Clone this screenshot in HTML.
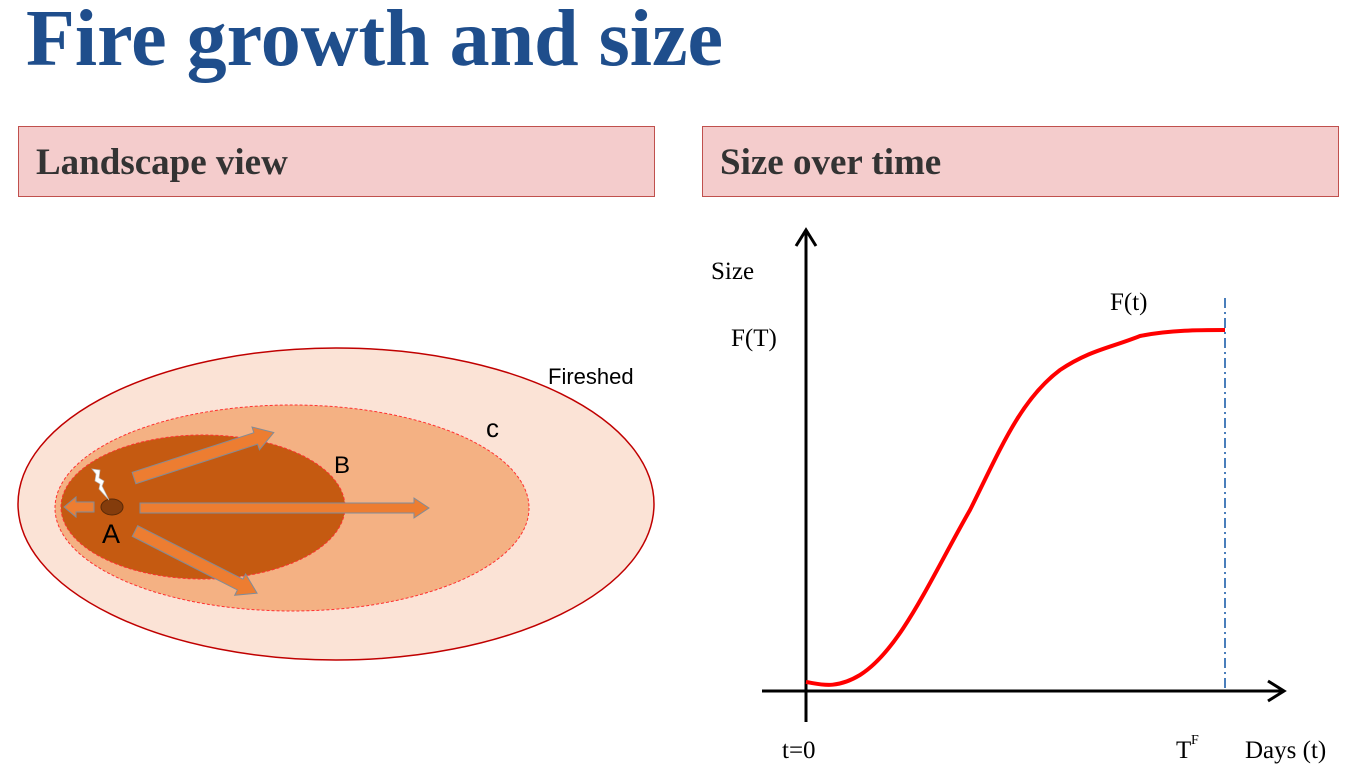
<!DOCTYPE html>
<html><head><style>
body{margin:0;width:1358px;height:782px;background:#fff;overflow:hidden;position:relative;font-family:"Liberation Serif",serif}
.t{position:absolute;left:26px;top:-6px;font-size:80px;font-weight:bold;color:#1f4e8c;white-space:nowrap}
.h{position:absolute;top:126px;height:71px;background:#f4cccc;border:1.5px solid #c0504d;box-sizing:border-box;font-size:37px;font-weight:bold;color:#333;padding-left:17px;line-height:72px;white-space:nowrap}
</style></head><body>
<div class="t">Fire growth and size</div>
<div class="h" style="left:18px;width:637px">Landscape view</div>
<div class="h" style="left:702px;width:637px">Size over time</div>
<svg width="1358" height="782" style="position:absolute;left:0;top:0">
<ellipse cx="336" cy="504" rx="318" ry="156" fill="#fbe3d6" stroke="#c00000" stroke-width="1.5"/>
<ellipse cx="292" cy="508" rx="237" ry="103" fill="#f4b183" stroke="#ff3030" stroke-width="1" stroke-dasharray="3,2"/>
<ellipse cx="203" cy="507" rx="142" ry="72" fill="#c55a11" stroke="#ff3030" stroke-width="1" stroke-dasharray="3,2"/>
<g fill="#ed7d31" stroke="#7f8c9a" stroke-width="1">
<polygon points="0,-6 128,-6 128,-12 147,0 128,12 128,6 0,6" transform="translate(134,478) rotate(-18)"/>
<polygon points="0,-5 274,-5 274,-10 289,0 274,10 274,5 0,5" transform="translate(140,508)"/>
<polygon points="0,-6 118,-6 118,-12 137,0 118,12 118,6 0,6" transform="translate(135,531) rotate(27)"/>
<polygon points="0,-5 18,-5 18,-10 30,0 18,10 18,5 0,5" transform="translate(94,507) rotate(180)"/>
</g>
<ellipse cx="112" cy="507" rx="11" ry="8" fill="#843c0c" stroke="#5a2a08"/>
<polygon points="92,469 100,470 99,478 104,481 102,486 109,500 99,489 100,484 95,481 96,474" fill="#fff" stroke="#bbb" stroke-width="0.7"/>
<g font-family="Liberation Sans,sans-serif" fill="#000">
<text x="102" y="543" font-size="27">A</text>
<text x="334" y="473" font-size="24">B</text>
<text x="486" y="437" font-size="26">c</text>
<text x="548" y="384" font-size="22">Fireshed</text>
</g>
<g stroke="#000" stroke-width="3" fill="none">
<line x1="806" y1="722" x2="806" y2="232"/>
<polyline points="796,246 806,230 816,246"/>
<line x1="762" y1="691" x2="1282" y2="691"/>
<polyline points="1268,681 1284,691 1268,701"/>
</g>
<line x1="1225" y1="298" x2="1225" y2="690" stroke="#4a7ebb" stroke-width="2" stroke-dasharray="10,4,2,4"/>
<path d="M806,682 C820,684 835,690 860,675 C900,650 930,580 970,510 C1000,450 1020,400 1060,370 C1090,350 1110,348 1140,336 C1170,330 1200,330 1225,330" stroke="#ff0000" stroke-width="4" fill="none"/>
<g font-size="25" fill="#000">
<text x="711" y="279">Size</text>
<text x="731" y="346">F(T)</text>
<text x="1110" y="310">F(t)</text>
<text x="782" y="758">t=0</text>
<text x="1176" y="758">T</text><text x="1191" y="744" font-size="14">F</text>
<text x="1245" y="758">Days (t)</text>
</g>
</svg>
</body></html>
